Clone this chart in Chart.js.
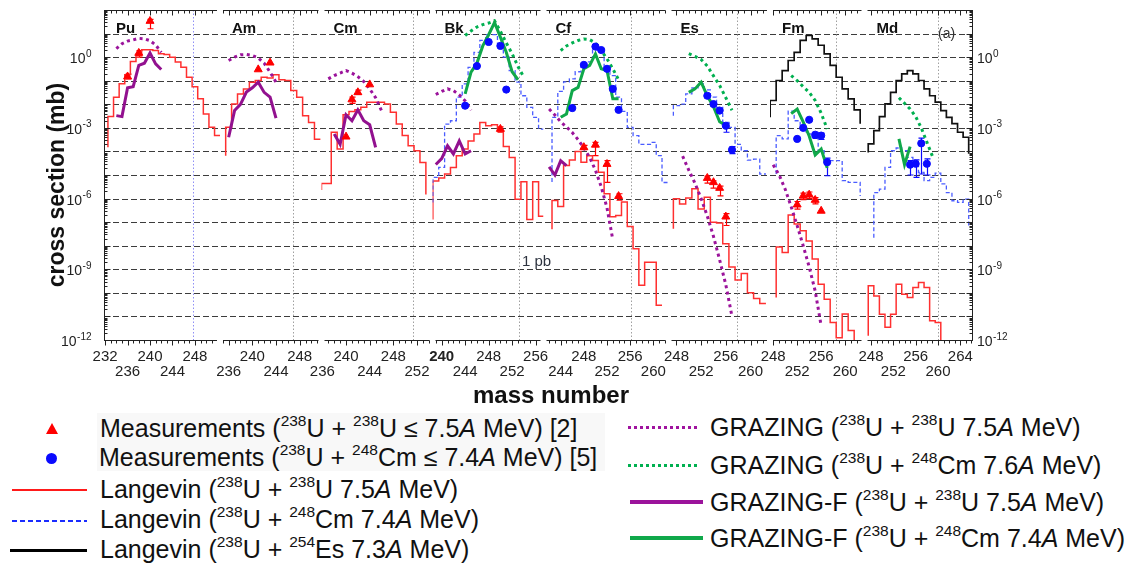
<!DOCTYPE html>
<html>
<head>
<meta charset="utf-8">
<title>Transfer products: cross sections by element</title>
<script src="https://cdn.jsdelivr.net/npm/chart.js@4.4.1/dist/chart.umd.min.js"></script>
<style>
  html, body { margin: 0; background: #fff; }
  #wrap { position: relative; width: 1137px; height: 563px; overflow: hidden; font-family: "Liberation Sans", Arial, Helvetica, sans-serif; }
  #chart { position: absolute; left: 0; top: 0; }
  .lg { position: absolute; font-size: 25px; line-height: 30px; color: #111; white-space: nowrap; }
  .lg sup { font-size: 0.62em; line-height: 0; position: relative; top: -0.1em; vertical-align: super; }
  .sym { position: absolute; }
  .shade { position: absolute; left: 97px; top: 413px; width: 508px; height: 58px; background: #f8f8f8; }
</style>
</head>
<body>
<div id="wrap">
  <canvas id="chart" width="1137" height="410"></canvas>

  <div class="shade"></div>
  <!-- left legend column -->
  <div class="sym" style="left:46px;top:423px;width:0;height:0;border-left:6px solid transparent;border-right:6px solid transparent;border-bottom:11px solid #ff0000;"></div>
  <div class="lg" style="left:100px;top:413px">Measurements (<sup>238</sup>U + <sup>238</sup>U ≤ 7.5<i>A</i> MeV) [2]</div>
  <div class="sym" style="left:46px;top:453px;width:11px;height:11px;border-radius:50%;background:#0a0aff;"></div>
  <div class="lg" style="left:99px;top:442px">Measurements (<sup>238</sup>U + <sup>248</sup>Cm ≤ 7.4<i>A</i> MeV) [5]</div>
  <div class="sym" style="left:12px;top:489px;width:75px;height:2px;background:#ff1a1a;"></div>
  <div class="lg" style="left:100px;top:474px">Langevin (<sup>238</sup>U + <sup>238</sup>U 7.5<i>A</i> MeV)</div>
  <div class="sym" style="left:12px;top:520px;width:75px;height:2px;background:repeating-linear-gradient(to right,#1a2cff 0 5px,transparent 5px 8px);"></div>
  <div class="lg" style="left:100px;top:504px">Langevin (<sup>238</sup>U + <sup>248</sup>Cm 7.4<i>A</i> MeV)</div>
  <div class="sym" style="left:10px;top:549px;width:77px;height:3px;background:#000;"></div>
  <div class="lg" style="left:100px;top:534px">Langevin (<sup>238</sup>U + <sup>254</sup>Es 7.3<i>A</i> MeV)</div>

  <!-- right legend column -->
  <div class="sym" style="left:628px;top:426px;width:72px;height:3px;background:repeating-linear-gradient(to right,#a0139f 0 3px,transparent 3px 6px);"></div>
  <div class="lg" style="left:710px;top:412px">GRAZING (<sup>238</sup>U + <sup>238</sup>U 7.5<i>A</i> MeV)</div>
  <div class="sym" style="left:628px;top:464px;width:72px;height:3px;background:repeating-linear-gradient(to right,#00b050 0 3px,transparent 3px 6px);"></div>
  <div class="lg" style="left:710px;top:450px">GRAZING (<sup>238</sup>U + <sup>248</sup>Cm 7.6<i>A</i> MeV)</div>
  <div class="sym" style="left:630px;top:500px;width:73px;height:4px;background:#9b139b;"></div>
  <div class="lg" style="left:710px;top:487px">GRAZING-F (<sup>238</sup>U + <sup>238</sup>U 7.5<i>A</i> MeV)</div>
  <div class="sym" style="left:630px;top:536px;width:73px;height:4px;background:#10a84a;"></div>
  <div class="lg" style="left:710px;top:523px">GRAZING-F (<sup>238</sup>U + <sup>248</sup>Cm 7.4<i>A</i> MeV)</div>
</div>

<script>
// Cross sections in mb, as [mass number, sigma] pairs.
// Histogram "Ends" hold the level the step line drops to at its left / right edge.
// "Err" lists are [mass number, lower, upper] for the measured points that carry bars.

// ---- Pu ----
const puLangUU = [[233,3.0e-3],[234,2.0e-2],[235,7.4e-2],[236,0.18],[237,0.66],[238,1.17],[239,2.04],[240,2.04],[241,1.9],[242,1.38],[243,1.29],[244,1.0],[245,0.62],[246,0.37],[247,0.14],[248,0.056],[249,0.017],[250,3.9e-3],[251,1.05e-3],[252,4.7e-4]];
const puLangUUEnds = [1.5e-4, null];
const puGrzUU = [[234,2.3],[235,3.7],[236,4.8],[237,5.4],[238,6.3],[239,6.0],[240,5.0],[241,3.3],[242,1.6]];
const puGrzfUU = [[234,3.3e-3],[235,3.0e-3],[236,0.05],[237,0.056],[238,0.45],[239,0.55],[240,1.5],[241,0.52],[242,0.3]];
const puMeasUU = [[236,0.15],[238,1.5],[240,34]];
const puMeasUUErr = [[236,0.12,0.19],[238,1.0,1.9],[240,16,40]];

// ---- Am ----
const amLangUU = [[236,1.05e-3],[237,0.0102],[238,0.0275],[239,0.045],[240,0.087],[241,0.102],[242,0.14],[243,0.13],[244,0.18],[245,0.11],[246,0.102],[247,0.038],[248,0.02],[249,3.3e-3],[250,1.7e-3],[251,3.3e-4]];
const amLangUUEnds = [6.6e-5, null];
const amGrzUU = [[236,0.72],[237,1.0],[238,1.26],[239,1.29],[240,1.17],[241,0.93],[242,0.55],[243,0.23],[244,0.087]];
const amGrzfUU = [[236,4.0e-4],[237,5.4e-3],[238,0.01],[239,0.033],[240,0.05],[241,0.087],[242,0.032],[243,0.02],[244,2.6e-3]];
const amMeasUU = [[241,0.3],[243,0.58]];

// ---- Cm ----
const cmLangUU = [[236,4.4e-6],[237,4.4e-6],[238,6.5e-4],[239,1.26e-4],[240,3.6e-3],[241,5.0e-3],[242,5.8e-3],[243,7.4e-3],[244,0.0123],[245,0.0123],[246,0.0123],[247,0.0102],[248,4.6e-3],[249,1.45e-3],[250,4.7e-4],[251,1.74e-4],[252,1.07e-4],[253,3.4e-5]];
const cmLangUUEnds = [2.3e-6, 1.5e-6];
const cmGrzUU = [[237,0.12],[238,0.166],[239,0.21],[240,0.27],[241,0.21],[242,0.148],[243,0.093],[244,0.045],[245,0.019],[246,5.4e-3]];
const cmGrzfUU = [[238,5.5e-4],[239,2.0e-4],[240,3.6e-3],[241,2.0e-3],[242,5.8e-3],[243,2.0e-3],[244,1.35e-3],[245,1.5e-4]];
const cmMeasUU = [[240,4.2e-4],[241,0.016],[242,0.032],[244,0.069]];
const cmMeasUUErr = [[241,0.011,0.02],[242,0.026,0.04]];

// ---- Bk ----
const bkLangUU = [[239,5.6e-6],[240,7.4e-6],[241,1.1e-5],[242,2.1e-5],[243,6.6e-5],[244,1.26e-4],[245,2.8e-4],[246,5.5e-4],[247,1.7e-3],[248,1.23e-3],[249,1.35e-3],[250,7.6e-4],[251,1.6e-4],[252,5.5e-5],[253,9.3e-7],[254,5.2e-6],[255,1.3e-7],[256,5.2e-6],[257,1.8e-7]];
const bkLangUUEnds = [1.3e-7, null];
const bkLangUCm = [[239,7.9e-6],[240,2.1e-5],[241,1.45e-3],[242,2.0e-3],[243,0.02],[244,0.074],[245,0.37],[246,1.6],[247,5.1],[248,9.1],[249,9.1],[250,3.7],[251,1.0],[252,0.27],[253,0.087],[254,0.023],[255,7.4e-3],[256,2.8e-3],[257,8.9e-4]];
const bkLangUCmEnds = [6.8e-7, null];
const bkGrzUU = [[239,0.026],[240,0.035],[241,0.045],[242,0.038],[243,0.025],[244,0.014],[245,5.6e-3]];
const bkGrzfUU = [[239,2.8e-5],[240,5.0e-5],[241,1.74e-4],[242,7.8e-5],[243,2.8e-4],[244,7.8e-5],[245,1.07e-4]];
const bkGrzUCm = [[244,8.3],[245,13],[246,19],[247,24],[248,28],[249,35],[250,12.6],[251,4.0],[252,1.4],[253,0.4],[254,0.14]];
const bkGrzfUCm = [[244,0.0275],[245,0.23],[246,0.55],[247,3.0],[248,8.9],[249,29.5],[250,7.1],[251,1.6],[252,0.24],[253,0.11]];
const bkMeasUU = [[250,8.9e-4]];
const bkMeasUUErr = [[250,6.5e-4,1.1e-3]];
const bkMeasUCm = [[244,8.7e-3],[246,0.42],[248,4.4],[250,3.0],[251,0.042]];

// ---- Cf ----
const cfLangUU = [[243,8.3e-7],[244,4.6e-7],[245,2.5e-5],[246,4.3e-5],[247,1.0e-4],[248,3.5e-5],[249,6.6e-5],[250,4.1e-5],[251,1.3e-5],[252,1.6e-6],[253,1.7e-7],[254,1.9e-7],[255,7.1e-7],[256,6.6e-8],[257,7.4e-9],[258,2.1e-10],[259,2.0e-9],[260,2.0e-9],[261,3.0e-11]];
const cfLangUUEnds = [5.0e-8, null];
const cfLangUCm = [[243,2.8e-3],[244,0.035],[245,0.089],[246,0.12],[247,0.24],[248,0.56],[249,0.63],[250,2.0],[251,2.4],[252,0.35],[253,0.166],[254,0.02],[255,5.0e-3],[256,1.05e-3],[257,4.7e-4],[258,2.0e-4],[259,2.0e-4],[260,2.4e-4],[261,6.6e-5],[262,4.8e-6]];
const cfLangUCmEnds = [5.0e-6, null];
const cfGrzUU = [[242,6.3e-3],[243,3.5e-3],[244,1.8e-3],[245,1.1e-3],[246,6.3e-4],[247,3.2e-4],[248,1.4e-4],[249,5.6e-5],[250,1.6e-5],[251,3.2e-6],[252,4.0e-7],[253,1.8e-8]];
const cfGrzfUU = [[242,2.2e-5],[243,1.0e-5],[244,4.0e-5],[245,2.5e-5]];
const cfGrzUCm = [[244,1.9],[245,3.0],[246,4.0],[247,5.1],[248,5.9],[249,5.5],[250,4.0],[251,1.9],[252,0.85],[253,0.32],[254,0.11]];
const cfGrzfUCm = [[244,2.8e-3],[245,3.9e-3],[246,0.038],[247,0.052],[248,0.32],[249,0.45],[250,1.38],[251,0.32],[252,0.27],[253,0.017],[254,0.017]];
const cfMeasUU = [[248,1.5e-4],[250,1.9e-4],[252,2.9e-5],[254,1.26e-6]];
const cfMeasUUErr = [[248,1.2e-4,1.8e-4],[250,6.6e-5,2.4e-4],[252,4.9e-6,4.1e-5],[254,8.5e-7,1.6e-6]];
const cfMeasUCm = [[246,6.9e-3],[248,0.47],[250,2.8],[251,2.0],[252,0.32],[253,0.045],[254,5.8e-3]];

// ---- Es ----
const esLangUU = [[248,9.8e-7],[249,5.9e-7],[250,1.07e-6],[251,2.6e-6],[252,3.6e-7],[253,1.15e-6],[254,1.0e-7],[255,9.1e-8],[256,1.2e-8],[257,1.26e-9],[258,3.5e-10],[259,6.6e-10],[260,1.0e-10],[261,5.8e-11],[262,3.5e-11]];
const esLangUUEnds = [5.2e-8, null];
const esLangUCm = [[248,8.7e-3],[249,0.0102],[250,0.0275],[251,0.05],[252,0.074],[253,0.041],[254,0.02],[255,7.4e-3],[256,1.7e-3],[257,1.05e-3],[258,2.0e-4],[259,1.07e-4],[260,4.3e-5],[261,4.7e-5],[262,1.1e-5]];
const esLangUCmEnds = [3.3e-3, null];
const esGrzUU = [[249,6.3e-5],[250,1.6e-5],[251,4.5e-6],[252,1.0e-6],[253,1.8e-7],[254,2.5e-8],[255,2.5e-9],[256,2.2e-10],[257,1.0e-11]];
const esGrzUCm = [[250,1.4],[251,1.07],[252,0.79],[253,0.42],[254,0.16],[255,0.063],[256,0.019],[257,5.6e-3]];
const esGrzfUCm = [[250,0.032],[251,0.045],[252,0.087],[253,0.023],[254,7.9e-3],[255,1.8e-3],[256,1.26e-3]];
const esMeasUU = [[253,7.4e-6],[254,4.9e-6],[255,2.8e-6],[256,1.7e-7]];
const esMeasUUErr = [[253,4.5e-6,9.0e-6],[254,2.8e-6,5.6e-6],[255,1.3e-6,3.4e-6],[256,7.2e-8,2.3e-7]];
const esMeasUCm = [[253,0.023],[254,0.0102],[255,5.4e-3],[256,1.23e-3],[257,1.17e-4]];
const esMeasUCmErr = [[256,6.5e-4,1.6e-3],[257,8.0e-5,1.6e-4]];

// ---- Fm ----
const fmLangUU = [[249,8.9e-9],[250,5.1e-9],[251,2.0e-7],[252,8.3e-8],[253,4.3e-8],[254,1.6e-8],[255,2.7e-9],[256,2.3e-10],[257,5.4e-11],[258,5.5e-12],[259,1.26e-12],[260,1.26e-11],[261,2.5e-12]];
const fmLangUUEnds = [6.3e-11, 9.1e-13];
const fmLangUCm = [[249,4.7e-4],[250,3.4e-4],[251,5.1e-3],[252,2.0e-3],[253,1.07e-3],[254,5.5e-4],[255,4.0e-4],[256,1.07e-4],[257,3.5e-5],[258,4.1e-5],[259,4.1e-5],[260,5.8e-6],[261,4.9e-6],[262,4.9e-6]];
const fmLangUCmEnds = [1.1e-5, 1.3e-6];
const fmLangUEs = [[248,0.0145],[249,0.102],[250,0.27],[251,0.72],[252,1.6],[253,5.1],[254,8.3],[255,6.0],[256,3.2],[257,1.38],[258,0.45],[259,0.14],[260,0.045],[261,0.017],[262,5.8e-3]];
const fmLangUEsEnds = [2.8e-3, 1.5e-3];
const fmGrzUU = [[248,2.7e-5],[249,1.0e-5],[250,2.5e-6],[251,4.5e-7],[252,7.1e-8],[253,1.0e-8],[254,1.26e-9],[255,1.2e-10],[256,4.0e-12]];
const fmGrzUCm = [[251,0.166],[252,0.1],[253,0.056],[254,0.032],[255,0.0145],[256,4.2e-3],[257,8.9e-4]];
const fmGrzfUCm = [[251,4.0e-3],[252,6.3e-3],[253,1.8e-3],[254,4.5e-4],[255,7.1e-5],[256,1.26e-4],[257,2.0e-5]];
const fmMeasUU = [[252,5.5e-7],[253,1.3e-6],[254,1.45e-6],[255,8.7e-7],[256,3.0e-7]];
const fmMeasUUErr = [[252,3.6e-7,7.5e-7],[253,9.0e-7,1.7e-6],[254,1.0e-6,1.9e-6],[255,6.0e-7,1.1e-6]];
const fmMeasUCm = [[252,3.4e-4],[253,1.0e-3],[254,2.2e-3],[255,5.1e-4],[256,4.7e-4],[257,3.5e-5]];
const fmMeasUCmErr = [[255,3.6e-4,6.5e-4],[256,3.2e-4,6.0e-4],[257,9.3e-6,5.2e-5]];

// ---- Md ----
const mdLangUU = [[248,2.0e-10],[249,7.4e-11],[250,1.23e-11],[251,3.5e-12],[252,1.23e-11],[253,2.3e-10],[254,8.7e-11],[255,6.3e-11],[256,1.7e-10],[257,2.75e-10],[258,1.7e-10],[259,6.5e-12],[260,5.5e-12]];
const mdLangUUEnds = [1.5e-12, 9.1e-13];
const mdLangUCm = [[249,1.8e-6],[250,2.5e-6],[251,2.1e-5],[252,1.07e-4],[253,1.4e-4],[254,1.07e-4],[255,5.6e-5],[256,3.0e-5],[257,1.3e-5],[258,5.8e-6],[259,7.9e-6],[260,1.2e-5],[261,4.2e-6],[262,1.8e-6],[263,8.1e-7],[264,6.9e-7],[265,9.5e-7]];
const mdLangUCmEnds = [2.2e-8, 6.0e-8];
const mdLangUEs = [[248,2.1e-4],[249,7.6e-4],[250,3.0e-3],[251,0.0105],[252,0.032],[253,0.102],[254,0.195],[255,0.27],[256,0.195],[257,0.102],[258,0.045],[259,0.023],[260,0.0123],[261,5.4e-3],[262,2.8e-3],[263,1.5e-3],[264,6.5e-4],[265,4.0e-4]];
const mdLangUEsEnds = [9.1e-5, 7.9e-5];
const mdGrzUCm = [[253,0.019],[254,0.011],[255,6.3e-3],[256,3.0e-3],[257,1.0e-3],[258,2.5e-4],[259,6.3e-5]];
const mdGrzfUCm = [[253,3.4e-4],[254,2.75e-5],[255,1.6e-4]];
const mdMeasUCm = [[255,2.75e-5],[256,3.0e-5],[257,2.2e-4],[258,3.0e-5]];
const mdMeasUCmErr = [[255,1.0e-5,4.1e-5],[256,7.9e-6,4.4e-5],[257,1.1e-5,3.7e-4],[258,1.0e-5,4.8e-5]];

// labelled mass numbers on each panel's axis
const puTicks = [232, 236, 240, 244, 248];
const amTicks = [236, 240, 244, 248];
const cmTicks = [236, 240, 244, 248, 252];
const bkTicks = [240, 244, 248, 252, 256];
const cfTicks = [244, 248, 252, 256, 260];
const esTicks = [248, 252, 256, 260];
const fmTicks = [248, 252, 256, 260];
const mdTicks = [248, 252, 256, 260, 264];

// panel layout: axis range, share of the plot width, dotted guide position
const panels = [
  { id: 'Pu', min: 231.8,  max: 252.47, w: 116,   ticks: puTicks, guide: 247.6 },
  { id: 'Am', min: 234.54, max: 251.69, w: 101.5, ticks: amTicks, guide: 246.9 },
  { id: 'Cm', min: 235.85, max: 254.62, w: 111,   ticks: cmTicks, guide: 251.3 },
  { id: 'Bk', min: 238.44, max: 257.34, w: 111,   ticks: bkTicks, guide: 253.2 },
  { id: 'Cf', min: 241.03, max: 262.62, w: 125,   ticks: cfTicks, guide: 256.1 },
  { id: 'Es', min: 246.71, max: 263.16, w: 101.5, ticks: esTicks, guide: 257.8 },
  { id: 'Fm', min: 247.47, max: 263.22, w: 94.5,  ticks: fmTicks, guide: 258.5 },
  { id: 'Md', min: 246.83, max: 266.27, w: 108.5, ticks: mdTicks, guide: 260 }
];

const FONT = '"Liberation Sans", Arial, Helvetica, sans-serif';
Chart.defaults.font.family = FONT;

const RED = '#ff0000';
const BLUE = '#0a0aff';

const STYLE = {
  langUU:  { borderColor: '#ff3030', borderWidth: 1.5 },
  langUCm: { borderColor: '#4a5cff', borderWidth: 1.3, borderDash: [4, 2.5] },
  langUEs: { borderColor: '#111111', borderWidth: 1.7 },
  grzUU:   { borderColor: '#9b139b', borderWidth: 3, borderDash: [3, 3.5] },
  grzUCm:  { borderColor: '#00b050', borderWidth: 3, borderDash: [3, 3.5] },
  grzfUU:  { borderColor: '#92118f', borderWidth: 3 },
  grzfUCm: { borderColor: '#10a84a', borderWidth: 3 }
};

// drawing order: first entries end up on top
const series = [
  ['Pu', 'measUU', puMeasUU], ['Am', 'measUU', amMeasUU], ['Cm', 'measUU', cmMeasUU], ['Bk', 'measUU', bkMeasUU],
  ['Cf', 'measUU', cfMeasUU], ['Es', 'measUU', esMeasUU], ['Fm', 'measUU', fmMeasUU],
  ['Bk', 'measUCm', bkMeasUCm], ['Cf', 'measUCm', cfMeasUCm], ['Es', 'measUCm', esMeasUCm],
  ['Fm', 'measUCm', fmMeasUCm], ['Md', 'measUCm', mdMeasUCm],
  ['Pu', 'grzfUU', puGrzfUU], ['Am', 'grzfUU', amGrzfUU], ['Cm', 'grzfUU', cmGrzfUU], ['Bk', 'grzfUU', bkGrzfUU], ['Cf', 'grzfUU', cfGrzfUU],
  ['Bk', 'grzfUCm', bkGrzfUCm], ['Cf', 'grzfUCm', cfGrzfUCm], ['Es', 'grzfUCm', esGrzfUCm], ['Fm', 'grzfUCm', fmGrzfUCm], ['Md', 'grzfUCm', mdGrzfUCm],
  ['Pu', 'grzUU', puGrzUU], ['Am', 'grzUU', amGrzUU], ['Cm', 'grzUU', cmGrzUU], ['Bk', 'grzUU', bkGrzUU],
  ['Cf', 'grzUU', cfGrzUU], ['Es', 'grzUU', esGrzUU], ['Fm', 'grzUU', fmGrzUU],
  ['Bk', 'grzUCm', bkGrzUCm], ['Cf', 'grzUCm', cfGrzUCm], ['Es', 'grzUCm', esGrzUCm], ['Fm', 'grzUCm', fmGrzUCm], ['Md', 'grzUCm', mdGrzUCm],
  ['Fm', 'langUEs', fmLangUEs, fmLangUEsEnds], ['Md', 'langUEs', mdLangUEs, mdLangUEsEnds],
  ['Bk', 'langUCm', bkLangUCm, bkLangUCmEnds], ['Cf', 'langUCm', cfLangUCm, cfLangUCmEnds], ['Es', 'langUCm', esLangUCm, esLangUCmEnds],
  ['Fm', 'langUCm', fmLangUCm, fmLangUCmEnds], ['Md', 'langUCm', mdLangUCm, mdLangUCmEnds],
  ['Pu', 'langUU', puLangUU, puLangUUEnds], ['Am', 'langUU', amLangUU, amLangUUEnds], ['Cm', 'langUU', cmLangUU, cmLangUUEnds],
  ['Bk', 'langUU', bkLangUU, bkLangUUEnds], ['Cf', 'langUU', cfLangUU, cfLangUUEnds], ['Es', 'langUU', esLangUU, esLangUUEnds],
  ['Fm', 'langUU', fmLangUU, fmLangUUEnds], ['Md', 'langUU', mdLangUU, mdLangUUEnds]
];

// error bars: panel, colour, [mass, low, high]
const errorBars = [
  ['Pu', RED, puMeasUUErr], ['Cm', RED, cmMeasUUErr], ['Bk', RED, bkMeasUUErr], ['Cf', RED, cfMeasUUErr],
  ['Es', RED, esMeasUUErr], ['Fm', RED, fmMeasUUErr],
  ['Es', BLUE, esMeasUCmErr], ['Fm', BLUE, fmMeasUCmErr], ['Md', BLUE, mdMeasUCmErr]
];

function toPoints(pairs) {
  return pairs.map(([x, y]) => ({ x, y }));
}

// step outline: one flat segment per mass bin, plus optional drops at both ends
function stepPoints(pairs, ends, p) {
  const cx = x => Math.min(p.max, Math.max(p.min, x));
  const out = [];
  if (ends && ends[0] != null) out.push({ x: cx(pairs[0][0] - 0.5), y: ends[0] });
  pairs.forEach(([m, v]) => {
    out.push({ x: cx(m - 0.5), y: v }, { x: cx(m + 0.5), y: v });
  });
  if (ends && ends[1] != null) out.push({ x: cx(pairs[pairs.length - 1][0] + 0.5), y: ends[1] });
  return out;
}

const datasets = series.map(([pid, kind, data, ends]) => {
  const p = panels.find(q => q.id === pid);
  const base = { xAxisID: 'x' + pid, yAxisID: 'y', tension: 0, fill: false };
  if (kind === 'measUU') {
    return { ...base, data: toPoints(data), showLine: false, pointStyle: 'triangle',
      pointRadius: 4.6, pointBackgroundColor: RED, pointBorderColor: RED, pointBorderWidth: 1 };
  }
  if (kind === 'measUCm') {
    return { ...base, data: toPoints(data), showLine: false, pointStyle: 'circle',
      pointRadius: 3.6, pointBackgroundColor: BLUE, pointBorderColor: BLUE, pointBorderWidth: 1 };
  }
  const steps = kind.startsWith('lang');
  return { ...base, ...STYLE[kind], data: steps ? stepPoints(data, ends, p) : toPoints(data),
    pointRadius: 0, borderCapStyle: 'butt', borderJoinStyle: 'miter' };
});

const scales = {
  y: {
    type: 'logarithmic', position: 'left', min: 1e-12, max: 1e2,
    ticks: { display: false }, grid: { display: false }, border: { display: false },
    afterFit: s => { s.width = 104; }
  }
};
panels.forEach(p => {
  scales['x' + p.id] = {
    type: 'linear', position: 'bottom', stack: 'mass', stackWeight: p.w,
    min: p.min, max: p.max, offset: false,
    grid: { display: false, drawTicks: false }, border: { display: false },
    ticks: {
      stepSize: 1, autoSkip: false, includeBounds: false, maxRotation: 0, minRotation: 0, padding: 9,
      color: '#222',
      font: ctx => ({ size: 15, lineHeight: 1,
        weight: (p.id === 'Bk' && ctx.tick && ctx.tick.value === 240) ? 'bold' : 'normal' }),
      callback: v => !p.ticks.includes(v) ? '' : (v % 8 === 0 ? String(v) : ['', String(v)])
    },
    afterFit: s => { s.height = 70; }
  };
});

function drawPow(ctx, x, y, exp, align) {
  ctx.font = '14px ' + FONT;
  const wb = ctx.measureText('10').width;
  ctx.font = '10px ' + FONT;
  const we = ctx.measureText(exp).width;
  const x0 = align === 'right' ? x - wb - we : x;
  ctx.textAlign = 'left';
  ctx.textBaseline = 'alphabetic';
  ctx.font = '14px ' + FONT;
  ctx.fillText('10', x0, y + 6);
  ctx.font = '10px ' + FONT;
  ctx.fillText(exp, x0 + wb + 0.5, y - 0.5);
}

const decor = {
  id: 'decor',
  beforeDatasetsDraw(chart) {
    const { ctx, chartArea: a, scales: sc } = chart;
    ctx.save();
    // dashed line at every decade
    ctx.strokeStyle = '#3c3c3c';
    ctx.lineWidth = 1;
    ctx.setLineDash([6, 3]);
    for (let d = -11; d <= 1; d++) {
      const py = Math.round(sc.y.getPixelForValue(Math.pow(10, d))) + 0.5;
      ctx.beginPath(); ctx.moveTo(a.left, py); ctx.lineTo(a.right, py); ctx.stroke();
    }
    // one dotted vertical guide per element panel
    ctx.setLineDash([1.5, 2]);
    panels.forEach(p => {
      const px = Math.round(sc['x' + p.id].getPixelForValue(p.guide)) + 0.5;
      ctx.strokeStyle = p.id === 'Pu' ? '#8f8ff5' : '#a0a0a0';
      ctx.beginPath(); ctx.moveTo(px, a.top); ctx.lineTo(px, a.bottom); ctx.stroke();
    });

    // error bars of the measurements, under the markers
    ctx.setLineDash([]);
    ctx.lineWidth = 1.2;
    errorBars.forEach(([pid, color, bars]) => {
      const xs = sc['x' + pid];
      ctx.strokeStyle = color;
      ctx.beginPath();
      bars.forEach(([m, lo, hi]) => {
        const px = Math.round(xs.getPixelForValue(m)) + 0.5;
        const y0 = sc.y.getPixelForValue(lo), y1 = sc.y.getPixelForValue(hi);
        ctx.moveTo(px, y0); ctx.lineTo(px, y1);
        ctx.moveTo(px - 3, y0); ctx.lineTo(px + 3, y0);
        ctx.moveTo(px - 3, y1); ctx.lineTo(px + 3, y1);
      });
      ctx.stroke();
    });
    ctx.restore();
  },
  afterDatasetsDraw(chart) {
    const { ctx, chartArea: a, scales: sc } = chart;
    const y = sc.y;
    ctx.save();
    ctx.setLineDash([]);
    ctx.strokeStyle = '#222';
    ctx.lineWidth = 1;

    // top and bottom frame of every panel, with mass ticks
    panels.forEach((p, i) => {
      const s = sc['x' + p.id];
      const x0 = i === 0 ? s.left : s.left + 3;
      const x1 = i === panels.length - 1 ? s.right : s.right - 3;
      const top = Math.round(a.top) + 0.5, bot = Math.round(a.bottom) + 0.5;
      ctx.beginPath();
      ctx.moveTo(x0, top); ctx.lineTo(x1, top);
      ctx.moveTo(x0, bot); ctx.lineTo(x1, bot);
      for (let m = Math.ceil(p.min); m <= Math.floor(p.max); m++) {
        const px = Math.round(s.getPixelForValue(m)) + 0.5;
        if (px < x0 || px > x1) continue;
        const len = m % 4 === 0 ? 5 : 3;
        ctx.moveTo(px, top); ctx.lineTo(px, top + len);
        ctx.moveTo(px, bot); ctx.lineTo(px, bot + len);
      }
      ctx.stroke();
    });

    // left and right cross-section axes with log ticks
    const lx = Math.round(a.left) + 0.5, rx = Math.round(a.right) - 0.5;
    ctx.beginPath();
    ctx.moveTo(lx, a.top); ctx.lineTo(lx, a.bottom + 0.5);
    ctx.moveTo(rx, a.top); ctx.lineTo(rx, a.bottom + 0.5);
    for (let d = -12; d <= 2; d++) {
      for (let k = 1; k <= 9; k++) {
        if (d === 2 && k > 1) break;
        const py = Math.round(y.getPixelForValue(k * Math.pow(10, d))) + 0.5;
        const len = k === 1 ? 6 : 3;
        ctx.moveTo(lx, py); ctx.lineTo(lx + len, py);
        ctx.moveTo(rx, py); ctx.lineTo(rx - len, py);
      }
    }
    ctx.stroke();

    // decade labels on both sides
    ctx.fillStyle = '#222';
    [0, -3, -6, -9, -12].forEach(d => {
      const py = y.getPixelForValue(Math.pow(10, d));
      drawPow(ctx, 91, py, String(d), 'right');
      drawPow(ctx, 977, py, String(d), 'left');
    });

    // element names
    ctx.font = 'bold 15px ' + FONT;
    ctx.textAlign = 'left';
    ctx.textBaseline = 'alphabetic';
    ctx.fillStyle = '#111';
    panels.forEach(p => ctx.fillText(p.id, sc['x' + p.id].left + 12, 33));

    ctx.font = '14px ' + FONT;
    ctx.fillStyle = '#333';
    ctx.fillText('(a)', 938, 38);

    ctx.font = '15px ' + FONT;
    ctx.fillStyle = '#2e3440';
    ctx.fillText('1 pb', 522, 266);

    // axis titles
    ctx.fillStyle = '#111';
    ctx.font = 'bold 24px ' + FONT;
    ctx.textAlign = 'center';
    ctx.textBaseline = 'middle';
    ctx.fillText('mass number', 551, 396);
    ctx.save();
    ctx.translate(58, 185);
    ctx.rotate(-Math.PI / 2);
    ctx.font = 'bold 23px ' + FONT;
    ctx.fillText('cross section (mb)', 0, 0);
    ctx.restore();

    ctx.restore();
  }
};

new Chart(document.getElementById('chart'), {
  type: 'line',
  data: { datasets },
  options: {
    responsive: false,
    animation: false,
    devicePixelRatio: 1,
    layout: { padding: { top: 10, right: 164, left: 0, bottom: 0 } },
    plugins: { legend: { display: false }, tooltip: { enabled: false } },
    scales
  },
  plugins: [decor]
});
</script>
</body>
</html>
